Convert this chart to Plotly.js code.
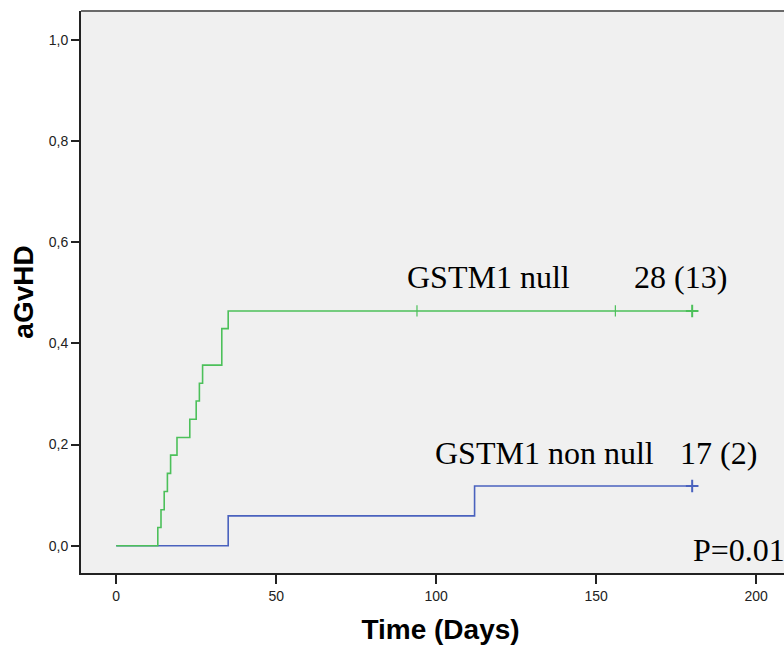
<!DOCTYPE html>
<html>
<head>
<meta charset="utf-8">
<script src="https://cdn.plot.ly/plotly-3.0.1.min.js"></script>
<style>
html,body{margin:0;padding:0;background:#fff;overflow:hidden;width:784px;height:648px;}
#chart{width:800px;height:648px;}
</style>
</head>
<body>
<div id="chart"></div>
<script>
// GSTM1 null group: cumulative incidence of aGvHD (step curve)
var nullDays = [0, 13, 14, 15, 16, 17, 19, 23, 25, 26, 27, 33, 35, 180];
var nullInc  = [0, 0.036, 0.071, 0.107, 0.143, 0.179, 0.214, 0.250, 0.286, 0.321, 0.357, 0.429, 0.464, 0.464];
var nullCensorDays = [94, 156];
var nullCensorInc  = [0.464, 0.464];
var nullEndDays = [180];
var nullEndInc  = [0.464];

// GSTM1 non null group
var nonDays = [0, 35, 112, 180];
var nonInc  = [0, 0.059, 0.118, 0.118];
var nonEndDays = [180];
var nonEndInc  = [0.118];

var xTicks = [0, 50, 100, 150, 200];
var xTickText = ['0', '50', '100', '150', '200'];
var yTicks = [0, 0.2, 0.4, 0.6, 0.8, 1.0];
var yTickText = ['0,0', '0,2', '0,4', '0,6', '0,8', '1,0'];

var labels = [
  {text: 'GSTM1 null', x: 90.2, y: 0.531},
  {text: '28 (13)', x: 161.2, y: 0.531},
  {text: 'GSTM1 non null', x: 98.9, y: 0.183},
  {text: '17 (2)', x: 175.5, y: 0.183},
  {text: 'P=0.01', x: 179.6, y: -0.008}
];

var green = '#4cc05a';
var blue = '#4a62be';

var traces = [
  {x: nonDays, y: nonInc, mode: 'lines', line: {shape: 'hv', color: blue, width: 1.6}, hoverinfo: 'skip'},
  {x: nonEndDays, y: nonEndInc, mode: 'markers', marker: {symbol: 'cross-thin-open', size: 9, color: blue, line: {color: blue, width: 2}}, hoverinfo: 'skip'},
  {x: nullDays, y: nullInc, mode: 'lines', line: {shape: 'hv', color: green, width: 1.6}, hoverinfo: 'skip'},
  {x: nullCensorDays, y: nullCensorInc, mode: 'markers', marker: {symbol: 'line-ns-open', size: 8, color: green, line: {color: green, width: 1.2}}, hoverinfo: 'skip'},
  {x: nullEndDays, y: nullEndInc, mode: 'markers', marker: {symbol: 'cross-thin-open', size: 9, color: green, line: {color: green, width: 2}}, hoverinfo: 'skip'}
];

var annotations = labels.map(function (l) {
  return {
    text: l.text, x: l.x, y: l.y, xref: 'x', yref: 'y',
    xanchor: 'left', yanchor: 'middle', showarrow: false,
    font: {family: '"Liberation Serif", "Times New Roman", serif', size: 32, color: '#000'}
  };
});

var layout = {
  width: 800, height: 648,
  margin: {l: 81, r: 0, t: 11, b: 75, pad: 0},
  paper_bgcolor: '#ffffff',
  plot_bgcolor: '#f0f0f0',
  showlegend: false,
  font: {family: '"Liberation Sans", Arial, sans-serif', color: '#222'},
  xaxis: {
    range: [-11.0, 213.7],
    tickvals: xTicks, ticktext: xTickText,
    ticks: 'outside', ticklen: 9, tickwidth: 2, tickcolor: '#222',
    showgrid: false, zeroline: false,
    showline: true, linecolor: '#222', linewidth: 2,
    tickfont: {size: 14, color: '#222'},
    title: {text: 'Time (Days)', font: {size: 28, color: '#000', family: '"Liberation Sans", Arial, sans-serif', weight: 'bold'}, standoff: 17}
  },
  yaxis: {
    range: [-0.054, 1.057],
    tickvals: yTicks, ticktext: yTickText,
    ticks: 'outside', ticklen: 8, tickwidth: 2, tickcolor: '#222',
    showgrid: false, zeroline: false,
    showline: true, linecolor: '#222', linewidth: 2,
    tickfont: {size: 14, color: '#222'},
    title: {text: 'aGvHD', font: {size: 28, color: '#000', family: '"Liberation Sans", Arial, sans-serif', weight: 'bold'}, standoff: 7}
  },
  shapes: [
    {type: 'line', xref: 'paper', yref: 'paper', x0: 0, x1: 1, y0: 1, y1: 1, line: {color: '#6a6a6a', width: 2}}
  ],
  annotations: annotations
};

Plotly.newPlot('chart', traces, layout, {displayModeBar: false, staticPlot: true});
</script>
</body>
</html>
